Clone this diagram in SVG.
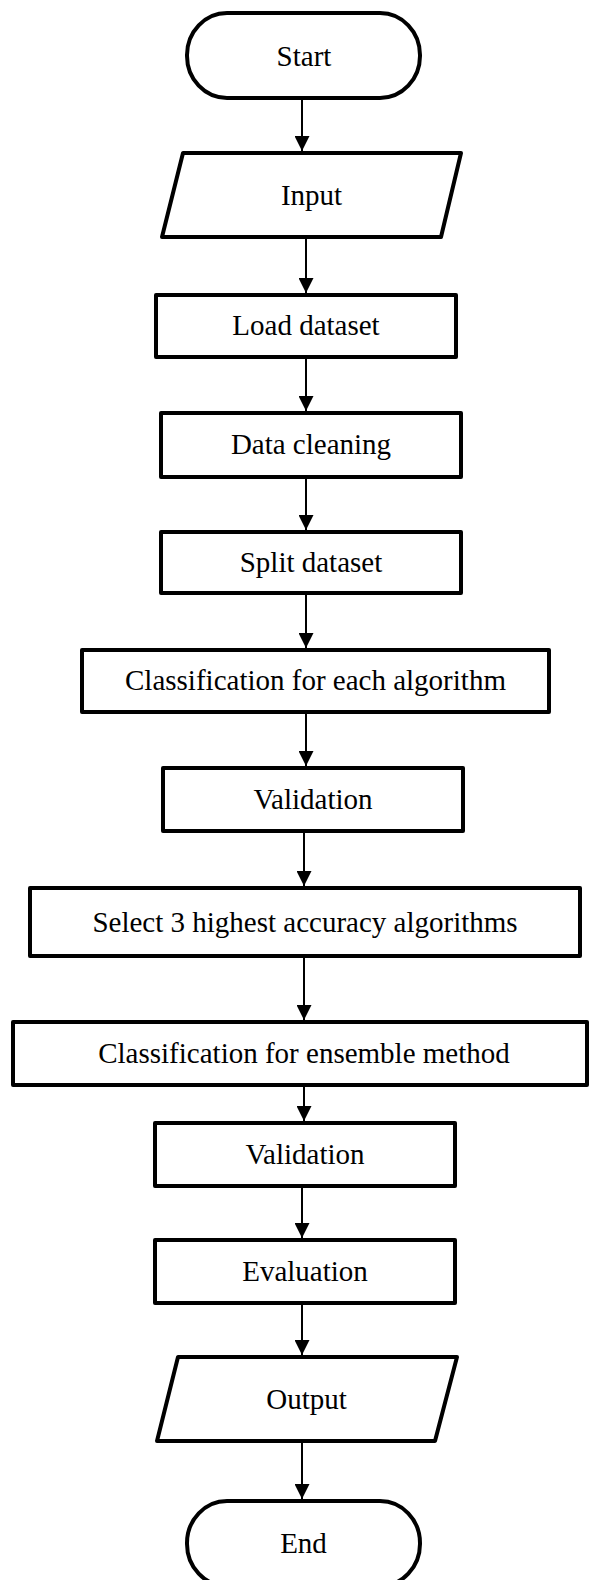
<svg xmlns="http://www.w3.org/2000/svg" width="589" height="1580" viewBox="0 0 589 1580">
  <style>
    .shape { fill: #ffffff; stroke: #000000; stroke-width: 4; stroke-linejoin: round; }
    .label { font-family: "Liberation Serif", "Times New Roman", serif; font-size: 29px; fill: #000000; text-anchor: middle; }
    .flow { stroke: #000000; stroke-width: 2; fill: none; marker-end: url(#arrow); }
  </style>
  <defs>
    <marker id="arrow" markerUnits="userSpaceOnUse" markerWidth="15" markerHeight="15" refX="14" refY="7" orient="auto" viewBox="0 0 14 14">
      <path d="M0,0 L14,7 L0,14 z" fill="#000000"/>
    </marker>
  </defs>
  <rect width="589" height="1580" fill="#ffffff"/>

  <!-- connectors -->
  <g id="connectors">
    <line class="flow" x1="302" y1="100" x2="302" y2="151"/>
    <line class="flow" x1="306" y1="239" x2="306" y2="293"/>
    <line class="flow" x1="306" y1="359" x2="306" y2="411"/>
    <line class="flow" x1="306" y1="479" x2="306" y2="530"/>
    <line class="flow" x1="306" y1="595" x2="306" y2="648"/>
    <line class="flow" x1="306" y1="714" x2="306" y2="766"/>
    <line class="flow" x1="304" y1="833" x2="304" y2="886"/>
    <line class="flow" x1="304" y1="958" x2="304" y2="1020"/>
    <line class="flow" x1="304" y1="1087" x2="304" y2="1121"/>
    <line class="flow" x1="302" y1="1188" x2="302" y2="1238"/>
    <line class="flow" x1="302" y1="1305" x2="302" y2="1355"/>
    <line class="flow" x1="302" y1="1443" x2="302" y2="1499"/>
  </g>

  <!-- terminal: start -->
  <g id="start">
    <rect class="shape" x="187" y="13" width="233" height="85" rx="40" ry="42"/>
    <text class="label" x="304" y="65.5">Start</text>
  </g>

  <!-- data input -->
  <g id="input">
    <polygon class="shape" points="183,153 461,153 441,237 162,237"/>
    <text class="label" x="311.5" y="205">Input</text>
  </g>

  <g id="load-dataset">
    <rect class="shape" x="156" y="295" width="300" height="62"/>
    <text class="label" x="306" y="335">Load dataset</text>
  </g>

  <g id="data-cleaning">
    <rect class="shape" x="161" y="413" width="300" height="64"/>
    <text class="label" x="311" y="454">Data cleaning</text>
  </g>

  <g id="split-dataset">
    <rect class="shape" x="161" y="532" width="300" height="61"/>
    <text class="label" x="311" y="572">Split dataset</text>
  </g>

  <g id="classify-each">
    <rect class="shape" x="82" y="650" width="467" height="62"/>
    <text class="label" x="315.5" y="690">Classification for each algorithm</text>
  </g>

  <g id="validation-1">
    <rect class="shape" x="163" y="768" width="300" height="63"/>
    <text class="label" x="313" y="809">Validation</text>
  </g>

  <g id="select-top3">
    <rect class="shape" x="30" y="888" width="550" height="68"/>
    <text class="label" x="305" y="931.5">Select 3 highest accuracy algorithms</text>
  </g>

  <g id="classify-ensemble">
    <rect class="shape" x="13" y="1022" width="574" height="63"/>
    <text class="label" x="304" y="1063">Classification for ensemble method</text>
  </g>

  <g id="validation-2">
    <rect class="shape" x="155" y="1123" width="300" height="63"/>
    <text class="label" x="305" y="1164">Validation</text>
  </g>

  <g id="evaluation">
    <rect class="shape" x="155" y="1240" width="300" height="63"/>
    <text class="label" x="305" y="1281">Evaluation</text>
  </g>

  <!-- data output -->
  <g id="output">
    <polygon class="shape" points="178,1357 457,1357 435,1441 157,1441"/>
    <text class="label" x="306.5" y="1409">Output</text>
  </g>

  <!-- terminal: end -->
  <g id="end">
    <rect class="shape" x="187" y="1501" width="233" height="85" rx="40" ry="42"/>
    <text class="label" x="303.5" y="1553">End</text>
  </g>
</svg>
